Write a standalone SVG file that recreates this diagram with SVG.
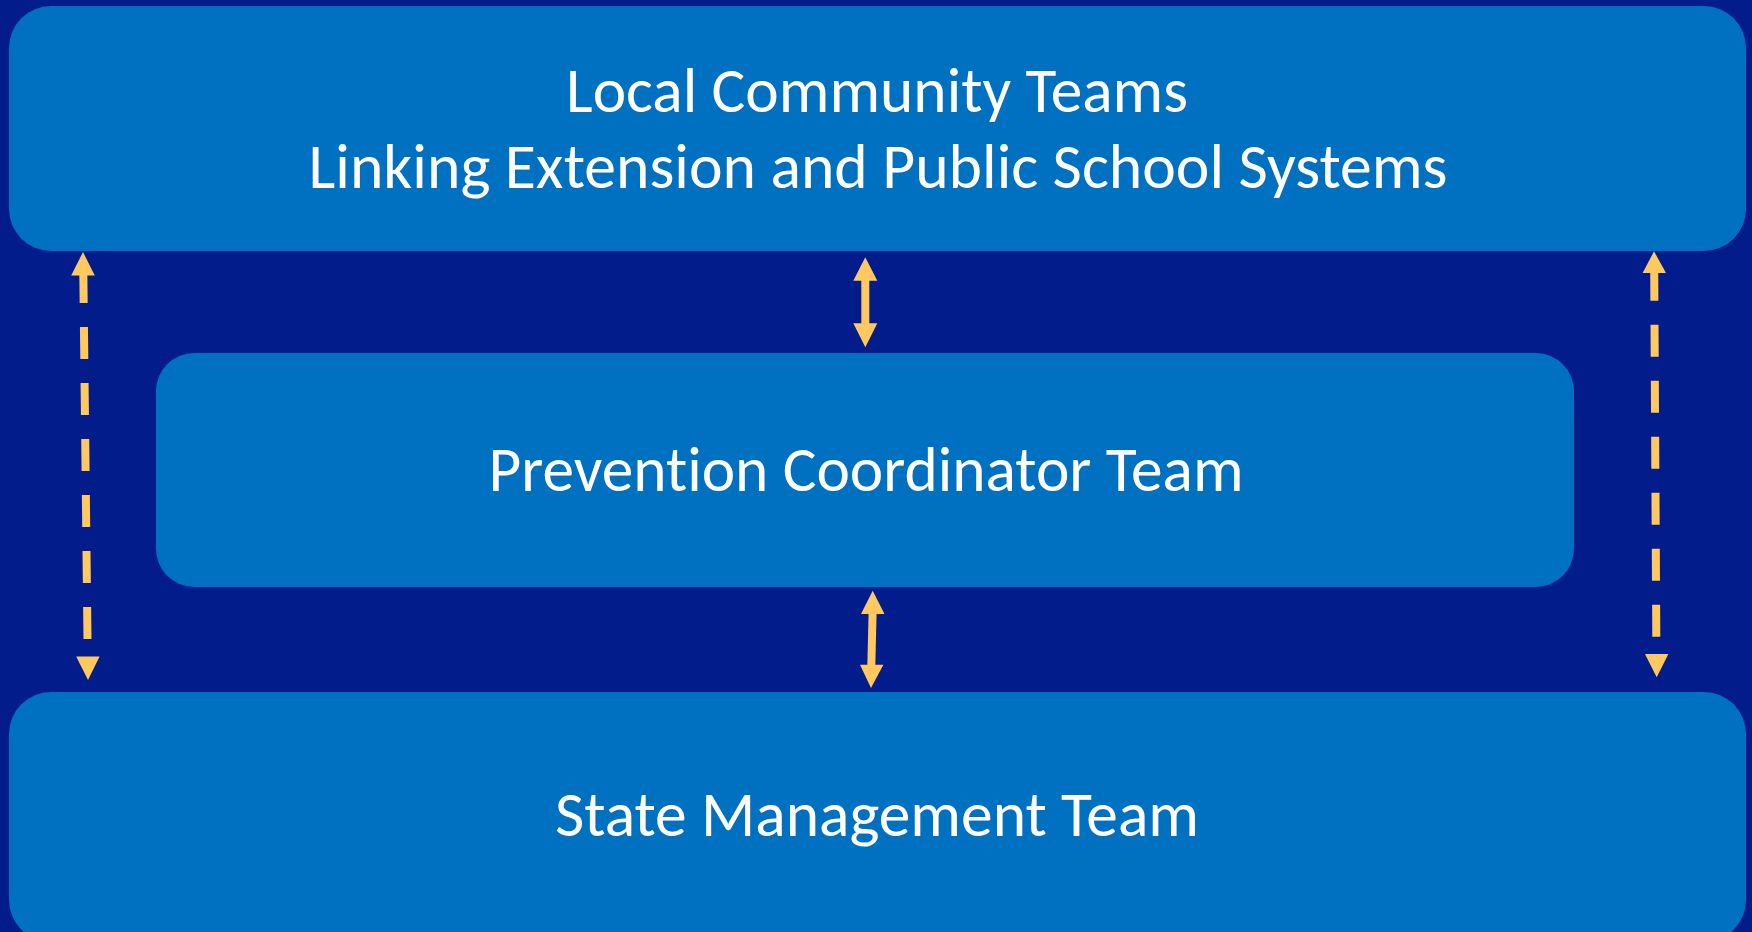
<svg xmlns="http://www.w3.org/2000/svg" width="1752" height="932" viewBox="0 0 1752 932">
<style>
.box{fill:#0070C0;}
.lbl{fill:#FFFFFF;font-family:Carlito,Calibri,"Open Sans","Noto Sans",sans-serif;font-size:64px;text-anchor:middle;font-variant-ligatures:none;font-feature-settings:"liga" 0;}
.shaft{stroke:#FFC95F;stroke-width:8;fill:none;}
.dash{stroke:#FFC95F;stroke-width:8;fill:none;stroke-dasharray:32 24;}
.head{fill:#FFC95F;}
</style>
<rect x="0" y="0" width="1752" height="932" fill="#021C8C"/>
<g id="local-community-teams">
<rect class="box" x="9" y="6" width="1737" height="245" rx="42" ry="42"/>
<text class="lbl" x="877" y="112" textLength="622" lengthAdjust="spacingAndGlyphs">Local Community Teams</text>
<text class="lbl" x="878" y="188" textLength="1139" lengthAdjust="spacingAndGlyphs">Linking Extension and Public School Systems</text>
</g>
<g id="prevention-coordinator-team">
<rect class="box" x="156" y="353" width="1418" height="234" rx="38" ry="38"/>
<text class="lbl" x="866" y="491" textLength="755" lengthAdjust="spacingAndGlyphs">Prevention Coordinator Team</text>
</g>
<g id="state-management-team">
<rect class="box" x="9" y="692" width="1737" height="250" rx="42" ry="42"/>
<text class="lbl" x="877" y="836" textLength="644" lengthAdjust="spacingAndGlyphs">State Management Team</text>
</g>
<g id="connectors">
<line class="dash" x1="83.3" y1="271" x2="87.7" y2="657"/>
<polygon class="head" points="83,252 94.8,275.5 71.2,275.5"/>
<polygon class="head" points="76.2,656.5 99.6,656.5 88,680"/>
<line class="dash" x1="1654.2" y1="268.7" x2="1656.4" y2="654"/>
<polygon class="head" points="1654,251.3 1666,273 1642.6,273"/>
<polygon class="head" points="1645,654 1668.4,654 1656.7,677.3"/>
<line class="shaft" x1="865.3" y1="279" x2="865.3" y2="325"/>
<polygon class="head" points="865.3,257.3 877.3,280.8 853.3,280.8"/>
<polygon class="head" points="853.3,323.3 877.3,323.3 865.3,347.3"/>
<line class="shaft" x1="872.6" y1="612" x2="871.3" y2="667"/>
<polygon class="head" points="872.7,590.7 884.5,614 861,614"/>
<polygon class="head" points="860,664.7 883.4,664.7 871,688"/>
</g>
</svg>
